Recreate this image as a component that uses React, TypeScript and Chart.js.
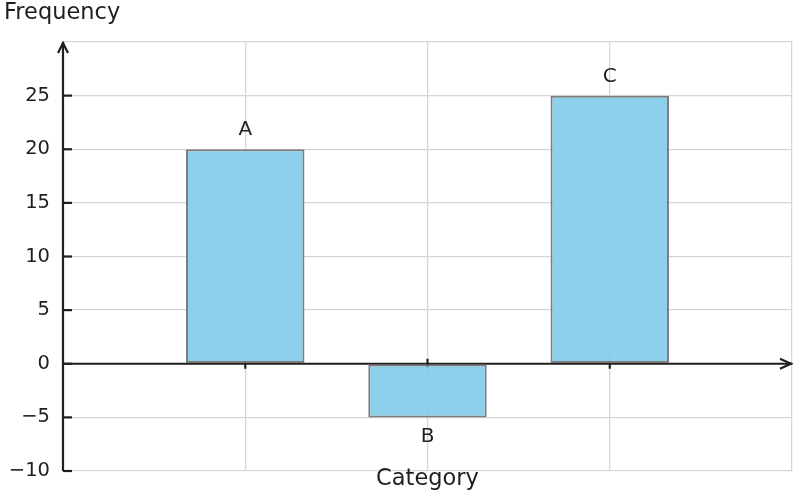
import React, { useEffect, useRef } from 'react';
import { Chart, registerables } from 'chart.js';

Chart.register(...registerables);

const categories = ['A', 'B', 'C'];
const frequencies = [20, -5, 25];
const yTicks = [-10, -5, 0, 5, 10, 15, 20, 25, 30];

const FONT = "'DejaVu Sans', sans-serif";
const INK = '#1f1f1f';

const axesPlugin = {
  id: 'axesPlugin',
  beforeDatasetsDraw(chart: any) {
    const { ctx, chartArea, scales } = chart;
    const x0 = scales.x.getPixelForValue(0);
    const y0 = scales.y.getPixelForValue(0);
    ctx.save();
    ctx.strokeStyle = INK;
    ctx.lineWidth = 2.2;
    ctx.lineCap = 'butt';

    // y axis with arrow
    ctx.beginPath();
    ctx.moveTo(x0, chartArea.bottom);
    ctx.lineTo(x0, chartArea.top);
    ctx.stroke();
    ctx.beginPath();
    ctx.moveTo(x0 - 5, chartArea.top + 11);
    ctx.lineTo(x0, chartArea.top + 1);
    ctx.lineTo(x0 + 5, chartArea.top + 11);
    ctx.stroke();

    // x axis with arrow
    ctx.beginPath();
    ctx.moveTo(chartArea.left, y0);
    ctx.lineTo(chartArea.right, y0);
    ctx.stroke();
    ctx.beginPath();
    ctx.moveTo(chartArea.right - 12, y0 - 5);
    ctx.lineTo(chartArea.right - 1, y0);
    ctx.lineTo(chartArea.right - 12, y0 + 5);
    ctx.stroke();

    // y ticks (inward)
    yTicks.slice(0, -1).forEach((v) => {
      const py = scales.y.getPixelForValue(v);
      ctx.beginPath();
      ctx.moveTo(x0, py);
      ctx.lineTo(x0 + 9, py);
      ctx.stroke();
    });

    // x ticks (in-out)
    categories.forEach((_, i) => {
      const px = scales.x.getPixelForValue(i + 1);
      ctx.beginPath();
      ctx.moveTo(px, y0 - 5);
      ctx.lineTo(px, y0 + 5);
      ctx.stroke();
    });
    ctx.restore();
  },
  afterDatasetsDraw(chart: any) {
    const { ctx, chartArea } = chart;
    const meta = chart.getDatasetMeta(0);
    ctx.save();
    ctx.fillStyle = INK;
    ctx.textAlign = 'center';
    ctx.textBaseline = 'middle';
    ctx.font = `20px ${FONT}`;
    meta.data.forEach((bar: any, i: number) => {
      const v = frequencies[i];
      const y = v >= 0 ? bar.y - 19 : bar.y + 19;
      ctx.fillText(categories[i], bar.x, y);
    });

    ctx.font = `22.5px ${FONT}`;
    ctx.fillText('Category', (chartArea.left + chartArea.right) / 2, 479);
    ctx.textAlign = 'left';
    ctx.fillText('Frequency', 4, 13);
    ctx.restore();
  },
};

export default function App() {
  const canvasRef = useRef<HTMLCanvasElement>(null);

  useEffect(() => {
    const el = canvasRef.current;
    if (!el) return;
    const chart = new Chart(el, {
      type: 'bar',
      data: {
        datasets: [
          {
            data: frequencies.map((v, i) => ({ x: i + 1, y: v })),
            backgroundColor: 'rgba(135, 206, 235, 0.95)',
            borderColor: 'rgba(118, 118, 118, 0.95)',
            borderWidth: 2,
            borderSkipped: false,
            barPercentage: 0.65,
            categoryPercentage: 1,
          },
        ],
      },
      options: {
        animation: false,
        responsive: true,
        maintainAspectRatio: false,
        layout: { padding: { top: 42, right: 4, left: 0, bottom: 0 } },
        plugins: {
          legend: { display: false },
          tooltip: { enabled: false },
        },
        scales: {
          x: {
            type: 'linear',
            offset: false,
            min: 0,
            max: categories.length + 1,
            ticks: { display: false, stepSize: 1 },
            grid: { color: '#d6d6d6', lineWidth: 1.3, drawTicks: false, offset: false },
            border: { display: false },
            afterFit: (scale: any) => {
              scale.height = 23;
              scale.paddingLeft = 0;
              scale.paddingRight = 0;
            },
          },
          y: {
            min: yTicks[0],
            max: yTicks[yTicks.length - 1],
            ticks: {
              stepSize: 5,
              padding: 13,
              color: INK,
              font: { family: FONT, size: 19.5 },
              callback: (v: any) =>
                v === yTicks[yTicks.length - 1] ? '' : String(v).replace('-', '\u2212'),
            },
            grid: { color: '#d6d6d6', lineWidth: 1.3, drawTicks: false },
            border: { display: false },
            afterFit: (scale: any) => {
              scale.width = 63;
              scale.paddingTop = 0;
              scale.paddingBottom = 0;
            },
          },
        },
      },
      plugins: [axesPlugin],
    });
    return () => chart.destroy();
  }, []);

  return (
    <div style={{ position: 'absolute', left: 0, top: 0, width: '796px', height: '494px', background: '#fff' }}>
      <canvas ref={canvasRef} />
    </div>
  );
}
